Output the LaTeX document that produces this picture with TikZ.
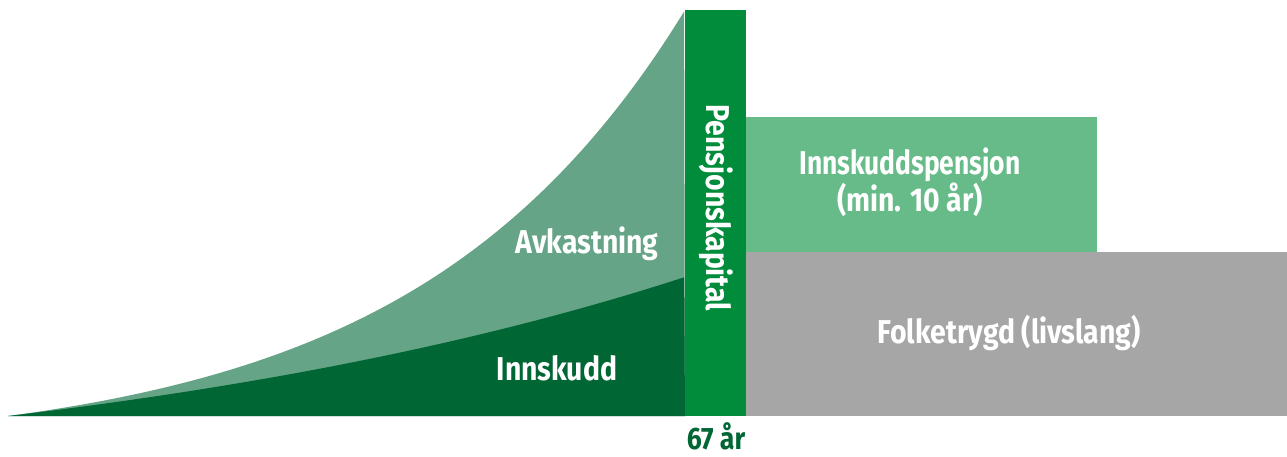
\documentclass[tikz,border=0pt]{standalone}
\usepackage{fontspec}
\setmainfont{Fira Sans}[FakeStretch=0.86]
\definecolor{dkgreen}{HTML}{006633}
\definecolor{avkgreen}{HTML}{66A487}
\definecolor{bargreen}{HTML}{008C3A}
\definecolor{boxgreen}{HTML}{66BB88}
\definecolor{boxgray}{HTML}{A6A6A6}
\begin{document}
\begin{tikzpicture}[x=1pt,y=-1pt,
  lbl/.style={text=white,font=\fontsize{33}{37}\selectfont\bfseries,align=center,inner sep=0pt}]
\useasboundingbox (0,0) rectangle (1287,456);
% Avkastning area
\fill[avkgreen] (8,416) -- plot[domain=0:1,samples=120] ({8+677*\x},{416-406*(exp(2.5*\x)-1)/(exp(2.5)-1)}) -- (685,416) -- cycle;
% Innskudd area
\fill[dkgreen] (8,416) -- plot[domain=0:1,samples=120] ({8+677*\x},{416-139*(exp(\x)-1)/(exp(1)-1)}) -- (685,416) -- cycle;
% Pension capital bar
\fill[bargreen] (685,10) rectangle (746,416);
% Payout boxes
\fill[boxgreen] (746,117) rectangle (1097,252);
\fill[boxgray] (746,252) rectangle (1287,416);
% Labels
\node[lbl] (avk) at (587,244) {Avkastning};
\node[lbl] (inn) at (557,368) {Innskudd};
\node[lbl,rotate=-90] (pk) at (716,208) {Pensjonskapital};
\node[lbl] (ip) at (910,182) {\scalebox{0.93}[1]{Innskuddspensjon}\\(min. 10 år)};
\node[lbl] (ft) at (1009,333) {Folketrygd (livslang)};
\node[text=dkgreen,font=\fontsize{31}{35}\selectfont\bfseries,inner sep=0pt,anchor=base] (age) at (716,449) {67 år};
\end{tikzpicture}
\end{document}
